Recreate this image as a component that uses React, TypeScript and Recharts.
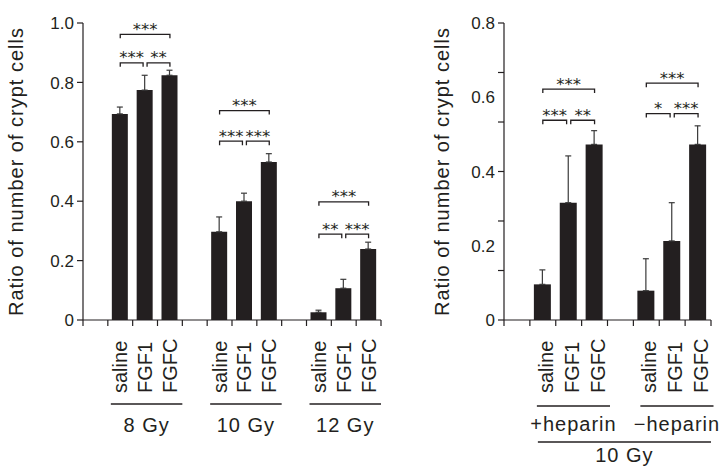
import React from "react";
import { BarChart, Bar, XAxis, YAxis, ErrorBar, ReferenceLine } from "recharts";

const treatments = ["saline", "FGF1", "FGFC"];

// left panel: dose
const doseGroups = ["8 Gy", "10 Gy", "12 Gy"];
const doseMeans = [
  [0.694, 0.774, 0.824],
  [0.297, 0.4, 0.532],
  [0.026, 0.107, 0.239],
];
const doseErrors = [
  [0.023, 0.05, 0.017],
  [0.05, 0.027, 0.028],
  [0.007, 0.03, 0.023],
];
const doseTicks = [0, 0.2, 0.4, 0.6, 0.8, 1.0];
const doseBrackets = [
  { group: 0, from: 0, to: 2, y: 0.962, label: "***" },
  { group: 0, from: 0, to: 1, y: 0.866, label: "***" },
  { group: 0, from: 1, to: 2, y: 0.866, label: "**" },
  { group: 1, from: 0, to: 2, y: 0.705, label: "***" },
  { group: 1, from: 0, to: 1, y: 0.602, label: "***" },
  { group: 1, from: 1, to: 2, y: 0.602, label: "***" },
  { group: 2, from: 0, to: 2, y: 0.398, label: "***" },
  { group: 2, from: 0, to: 1, y: 0.289, label: "**" },
  { group: 2, from: 1, to: 2, y: 0.289, label: "***" },
];

// right panel: heparin at 10 Gy
const heparinGroups = ["+heparin", "−heparin"];
const heparinMeans = [
  [0.096, 0.316, 0.473],
  [0.079, 0.213, 0.473],
];
const heparinErrors = [
  [0.039, 0.126, 0.037],
  [0.086, 0.103, 0.05],
];
const heparinLabels = [0, 0.2, 0.4, 0.6, 0.8];
// tick marks in the original don't line up with the labels
const heparinMarks = [0, 0.1333, 0.2667, 0.4, 0.5333, 0.6667, 0.8];
const heparinBrackets = [
  { group: 0, from: 0, to: 2, y: 0.622, label: "***" },
  { group: 0, from: 0, to: 1, y: 0.538, label: "***" },
  { group: 0, from: 1, to: 2, y: 0.538, label: "**" },
  { group: 1, from: 0, to: 2, y: 0.638, label: "***" },
  { group: 1, from: 0, to: 1, y: 0.556, label: "*" },
  { group: 1, from: 1, to: 2, y: 0.556, label: "***" },
];
const heparinDose = "10 Gy";

const yTitle = "Ratio of number of crypt cells";

const ink = "#231f20";
const font = "'Liberation Sans', Arial, sans-serif";

const buildRows = (groups: string[], means: number[][], errors: number[][]) =>
  groups.flatMap((g, gi) =>
    treatments.map((t, ti) => ({
      pos: gi * 4 + ti + 1,
      gi,
      ti,
      name: t,
      group: g,
      mean: means[gi][ti],
      err: [0, errors[gi][ti]],
    }))
  );

const Bracket = ({ x1, y1, x2, label }: any) => (
  <g>
    <path
      d={`M${x1},${y1 + 4}V${y1}H${x2}V${y1 + 4}`}
      fill="none"
      stroke={ink}
      strokeWidth={1.3}
    />
    <text
      x={(x1 + x2) / 2}
      y={y1 + 0.5}
      textAnchor="middle"
      fontSize={16.5}
      fill={ink}
      fontFamily="'DejaVu Sans', sans-serif"
    >
      {label}
    </text>
  </g>
);

type PanelProps = {
  width: number;
  groups: string[];
  means: number[][];
  errors: number[][];
  yMax: number;
  yLabels: number[];
  yMarks: number[];
  brackets: typeof doseBrackets;
  axisW: number;
  titleX: number;
  labelShift: number;
  lineIn: number;
  lineOut: number;
  lineY: number;
  groupY: number;
  barSize: number;
  superLabel?: string;
};

const Panel = (p: PanelProps) => {
  const right = 9;
  const rows = buildRows(p.groups, p.means, p.errors);
  const slots = p.groups.length * 4;
  const slotPx = (p.width - p.axisW - right) / slots;
  const xTicks = [
    ...Array.from({ length: slots + 1 }, (_, i) => i - 0.5),
    ...rows.map((r) => r.pos),
  ].sort((a, b) => a - b);
  const yTicks = Array.from(new Set([...p.yLabels, ...p.yMarks])).sort((a, b) => a - b);
  const lastPos = rows[rows.length - 1].pos;

  const renderXTick = (props: any) => {
    const { x, y, payload } = props;
    const v = payload.value;
    if (!Number.isInteger(v)) {
      return <line x1={x} x2={x} y1={y} y2={y + 6} stroke={ink} strokeWidth={1.2} />;
    }
    const row = rows.find((r) => r.pos === v);
    if (!row) return <g />;
    return (
      <g>
        <text
          transform={`translate(${x + p.labelShift},${y + 73}) rotate(-90)`}
          fontSize={20}
          fill={ink}
          fontFamily={font}
          textAnchor="start"
        >
          {row.name}
        </text>
        {row.ti === 1 && (
          <g>
            <line
              x1={x - 1.5 * slotPx + p.lineIn}
              x2={x + 1.5 * slotPx + p.lineOut}
              y1={y + p.lineY}
              y2={y + p.lineY}
              stroke={ink}
              strokeWidth={1.3}
            />
            <text
              x={x + (p.lineIn + p.lineOut) / 2}
              y={y + p.groupY}
              textAnchor="middle"
              fontSize={20}
              letterSpacing={1}
              fill={ink}
              fontFamily={font}
            >
              {row.group}
            </text>
          </g>
        )}
        {p.superLabel && v === 1 && (
          <g>
            <line
              x1={x - slotPx / 2 + 8}
              x2={x + (lastPos - v + 0.5) * slotPx}
              y1={y + 122}
              y2={y + 122}
              stroke={ink}
              strokeWidth={1.3}
            />
            <text
              x={x + ((lastPos - v + 0.5) * slotPx - slotPx / 2 + 8) / 2}
              y={y + 142}
              textAnchor="middle"
              fontSize={20}
              letterSpacing={1}
              fill={ink}
              fontFamily={font}
            >
              {p.superLabel}
            </text>
          </g>
        )}
      </g>
    );
  };

  const renderYTick = (props: any) => {
    const { x, y, payload } = props;
    const v = payload.value;
    const mark = p.yMarks.some((m) => Math.abs(m - v) < 1e-6);
    const lab = p.yLabels.find((l) => Math.abs(l - v) < 1e-6);
    return (
      <g>
        {mark && <line x1={x - 6} x2={x} y1={y} y2={y} stroke={ink} strokeWidth={1.2} />}
        {lab !== undefined && (
          <text
            x={x - 9}
            y={y}
            dy="0.36em"
            textAnchor="end"
            fontSize={17}
            fill={ink}
            fontFamily={font}
          >
            {lab === 0 ? "0" : lab.toFixed(1)}
          </text>
        )}
      </g>
    );
  };

  const renderTitle = (props: any) => {
    const vb = props.viewBox || {};
    const cy = (vb.y ?? 23) + (vb.height ?? 297) / 2;
    return (
      <text
        transform={`translate(${p.titleX},${cy}) rotate(-90)`}
        textAnchor="middle"
        fontSize={20}
        letterSpacing={1}
        fill={ink}
        fontFamily={font}
      >
        {yTitle}
      </text>
    );
  };

  return (
    <BarChart
      width={p.width}
      height={468}
      data={rows}
      margin={{ top: 23, right, bottom: 0, left: 0 }}
    >
      <XAxis
        type="number"
        dataKey="pos"
        domain={[-0.5, slots - 0.5]}
        ticks={xTicks}
        interval={0}
        height={148}
        tickSize={0}
        tickMargin={0}
        tickLine={false}
        axisLine={{ stroke: ink, strokeWidth: 1.2 }}
        tick={renderXTick}
        allowDataOverflow
      />
      <YAxis
        type="number"
        domain={[0, p.yMax]}
        ticks={yTicks}
        interval={0}
        width={p.axisW}
        tickSize={0}
        tickMargin={0}
        tickLine={false}
        axisLine={{ stroke: ink, strokeWidth: 1.2 }}
        tick={renderYTick}
        label={{ content: renderTitle }}
        allowDataOverflow
      />
      <Bar dataKey="mean" fill={ink} barSize={p.barSize} isAnimationActive={false}>
        <ErrorBar dataKey="err" width={3} stroke="#3a3a3a" strokeWidth={1.2} direction="y" />
      </Bar>
      {p.brackets.map((b, i) => {
        const base = b.group * 4 + 1;
        const x1 = base + b.from + (b.from === 1 ? 0.08 : 0);
        const x2 = base + b.to - (b.to === 1 ? 0.08 : 0);
        return (
          <ReferenceLine
            key={i}
            segment={[
              { x: x1, y: b.y },
              { x: x2, y: b.y },
            ]}
            ifOverflow="visible"
            shape={(sp: any) => <Bracket {...sp} label={b.label} />}
          />
        );
      })}
    </BarChart>
  );
};

export default function App() {
  return (
    <div
      style={{
        position: "absolute",
        left: 0,
        top: 0,
        width: 720,
        height: 468,
        display: "flex",
        background: "#fff",
        overflow: "hidden",
      }}
    >
      <Panel
        width={390}
        groups={doseGroups}
        means={doseMeans}
        errors={doseErrors}
        yMax={1.0}
        yLabels={doseTicks}
        yMarks={doseTicks}
        brackets={doseBrackets}
        axisW={83}
        titleX={23}
        labelShift={7}
        lineIn={3}
        lineOut={0}
        lineY={84}
        groupY={112}
        barSize={16}
      />
      <Panel
        width={330}
        groups={heparinGroups}
        means={heparinMeans}
        errors={heparinErrors}
        yMax={0.8}
        yLabels={heparinLabels}
        yMarks={heparinMarks}
        brackets={heparinBrackets}
        axisW={114}
        titleX={59}
        labelShift={10}
        lineIn={7}
        lineOut={2.5}
        lineY={86}
        groupY={111}
        barSize={17}
        superLabel={heparinDose}
      />
    </div>
  );
}
